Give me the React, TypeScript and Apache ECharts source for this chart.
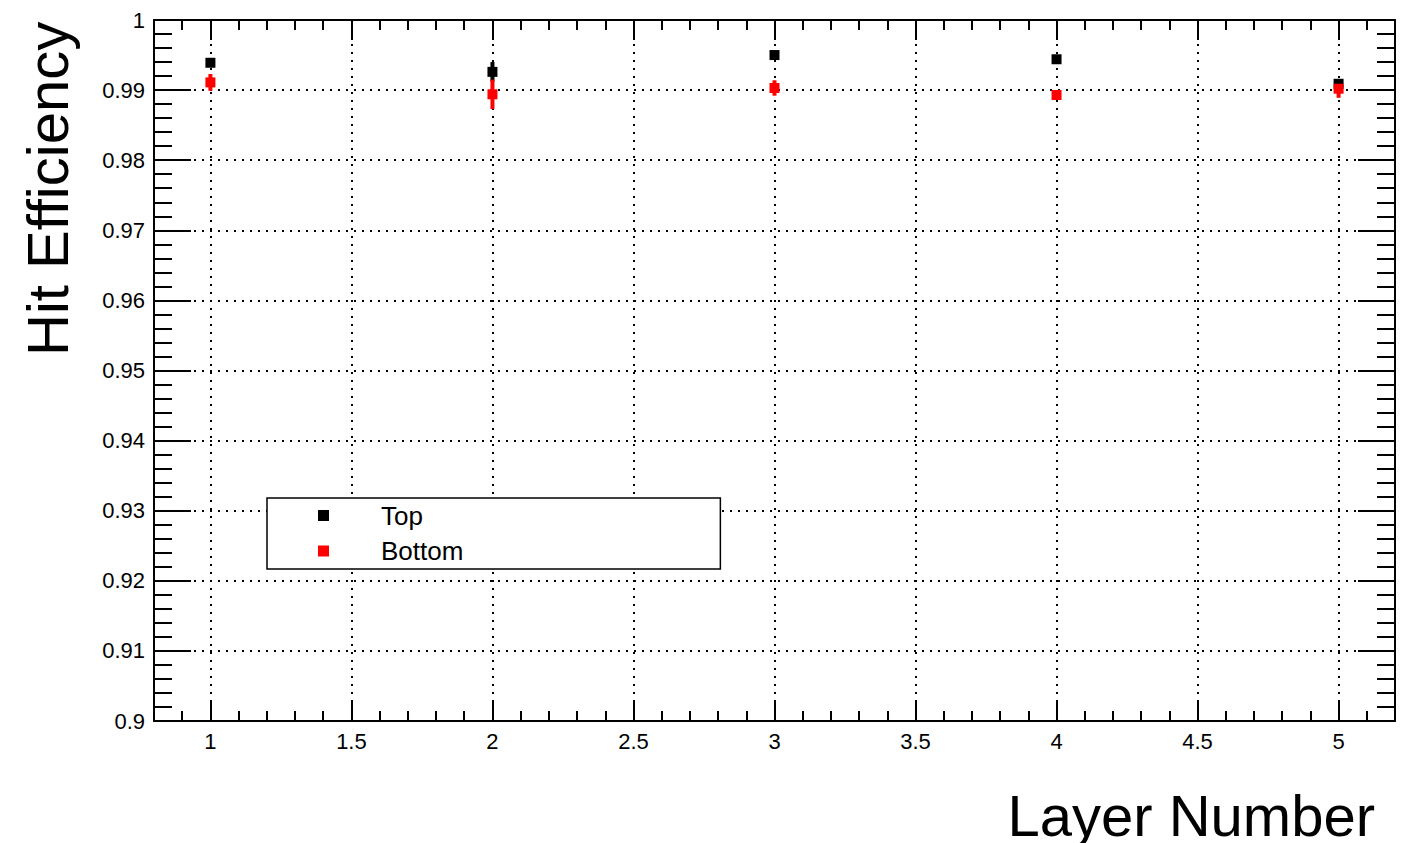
import React, { useEffect, useRef } from "react";
import * as echarts from "echarts";

const LAYERS = [1, 2, 3, 4, 5];
const TOP_EFF = [0.9939, 0.9926, 0.995, 0.9944, 0.9909];
const TOP_ERR = [0.0005, 0.0014, 0.0005, 0.0005, 0.0005];
const BOTTOM_EFF = [0.9911, 0.9894, 0.9903, 0.9893, 0.9902];
const BOTTOM_ERR = [0.0012, 0.0021, 0.0011, 0.0006, 0.0013];
const X_MAJOR_TICKS = [1, 1.5, 2, 2.5, 3, 3.5, 4, 4.5, 5];
const X_MIN = 0.8;
const X_MAX = 5.2;
const X_MINOR_STEP = 0.1;
const Y_MIN = 0.9;
const Y_MAX = 1.0;
const Y_STEP = 0.01;
const X_TITLE = "Layer Number";
const Y_TITLE = "Hit Efficiency";

const FONT = "'Liberation Sans', Arial, Helvetica, sans-serif";

export default function App() {
  const ref = useRef<HTMLDivElement>(null);
  useEffect(() => {
    if (!ref.current) return;
    const chart = echarts.init(ref.current, undefined, { renderer: "svg" });
    const frame = { show: true, lineStyle: { color: "#000", width: 2 } };
    const dotted = { color: "#000", width: 2, type: [2, 6] as any };
    const errSeries = (name: string, eff: number[], err: number[], color: string) => ({
      type: "custom",
      name: name + " err",
      xAxisIndex: 0,
      yAxisIndex: 0,
      silent: true,
      data: LAYERS.map((l, i) => [l, eff[i] - err[i], eff[i] + err[i]]),
      encode: { x: 0, y: [1, 2] },
      renderItem: (_p: any, api: any) => {
        const a = api.coord([api.value(0), api.value(1)]);
        const b = api.coord([api.value(0), api.value(2)]);
        return {
          type: "line",
          shape: { x1: a[0], y1: a[1], x2: b[0], y2: b[1] },
          style: { stroke: color, lineWidth: 4 },
        };
      },
    });
    const option: any = {
      animation: false,
      backgroundColor: "#fff",
      textStyle: { fontFamily: FONT },
      grid: { left: 154, right: 21, top: 20, bottom: 122, outerBoundsMode: "none" },
      graphic: [
        {
          type: "text",
          x: 47,
          y: 356,
          rotation: Math.PI / 2,
          style: {
            text: Y_TITLE,
            fontSize: 58,
            fontFamily: FONT,
            fill: "#000",
            textAlign: "left",
            textVerticalAlign: "middle",
          },
        },
        {
          type: "text",
          x: 1375,
          y: 815,
          style: {
            text: X_TITLE,
            fontSize: 58,
            fontFamily: FONT,
            fill: "#000",
            textAlign: "right",
            textVerticalAlign: "middle",
          },
        },
      ],
      legend: {
        orient: "vertical",
        left: 267,
        top: 498,
        selectedMode: false,
        data: ["Top", "Bottom"],
        icon: "rect",
        itemWidth: 11,
        itemHeight: 11,
        itemGap: 9.5,
        borderColor: "#000",
        borderWidth: 1.5,
        borderRadius: 0,
        backgroundColor: "#fff",
        padding: [4.5, 257, 5, 51],
        textStyle: { fontSize: 26, color: "#000", fontFamily: FONT, padding: [0, 0, 0, 47] },
      },
      xAxis: [
        {
          type: "value",
          position: "bottom",
          min: X_MIN,
          max: X_MAX,
          axisLine: frame,
          axisTick: { show: true, inside: true, length: 20, customValues: X_MAJOR_TICKS, lineStyle: { color: "#000", width: 2 } },
          axisLabel: { show: true, customValues: X_MAJOR_TICKS, color: "#000", fontSize: 22, margin: 9, fontFamily: FONT },
          splitLine: { show: true, customValues: X_MAJOR_TICKS, lineStyle: dotted },
        },
        {
          type: "value",
          position: "bottom",
          min: X_MIN,
          max: X_MAX,
          interval: X_MINOR_STEP,
          axisLine: { show: false },
          axisTick: { show: true, inside: true, length: 10, lineStyle: { color: "#000", width: 2 } },
          axisLabel: { show: false },
          splitLine: { show: false },
        },
        {
          type: "value",
          position: "top",
          min: X_MIN,
          max: X_MAX,
          axisLine: frame,
          axisTick: { show: true, inside: true, length: 20, customValues: X_MAJOR_TICKS, lineStyle: { color: "#000", width: 2 } },
          axisLabel: { show: false },
          splitLine: { show: false },
        },
        {
          type: "value",
          position: "top",
          min: X_MIN,
          max: X_MAX,
          interval: X_MINOR_STEP,
          axisLine: { show: false },
          axisTick: { show: true, inside: true, length: 10, lineStyle: { color: "#000", width: 2 } },
          axisLabel: { show: false },
          splitLine: { show: false },
        },
      ],
      yAxis: [
        {
          type: "value",
          position: "left",
          min: Y_MIN,
          max: Y_MAX,
          interval: Y_STEP,
          axisLine: frame,
          axisTick: { show: true, inside: true, length: 37, lineStyle: { color: "#000", width: 2 } },
          minorTick: { show: true, splitNumber: 5, length: 18, lineStyle: { color: "#000", width: 2 } },
          axisLabel: { show: true, color: "#000", fontSize: 22, margin: 9, fontFamily: FONT },
          splitLine: { show: true, lineStyle: dotted },
        },
        {
          type: "value",
          position: "right",
          min: Y_MIN,
          max: Y_MAX,
          interval: Y_STEP,
          axisLine: frame,
          axisTick: { show: true, inside: true, length: 37, lineStyle: { color: "#000", width: 2 } },
          minorTick: { show: true, splitNumber: 5, length: 18, lineStyle: { color: "#000", width: 2 } },
          axisLabel: { show: false },
          splitLine: { show: false },
        },
      ],
      series: [
        errSeries("Top", TOP_EFF, TOP_ERR, "#000"),
        {
          type: "scatter",
          name: "Top",
          xAxisIndex: 0,
          yAxisIndex: 0,
          symbol: "rect",
          symbolSize: 10,
          itemStyle: { color: "#000", opacity: 1 },
          data: LAYERS.map((l, i) => [l, TOP_EFF[i]]),
        },
        errSeries("Bottom", BOTTOM_EFF, BOTTOM_ERR, "#ff0000"),
        {
          type: "scatter",
          name: "Bottom",
          xAxisIndex: 0,
          yAxisIndex: 0,
          symbol: "rect",
          symbolSize: 10,
          itemStyle: { color: "#ff0000", opacity: 1 },
          data: LAYERS.map((l, i) => [l, BOTTOM_EFF[i]]),
        },
      ],
    };
    chart.setOption(option);
    return () => chart.dispose();
  }, []);
  return (
    <div
      ref={ref}
      style={{ position: "fixed", left: 0, top: 0, width: 1416, height: 843, background: "#fff" }}
    />
  );
}
